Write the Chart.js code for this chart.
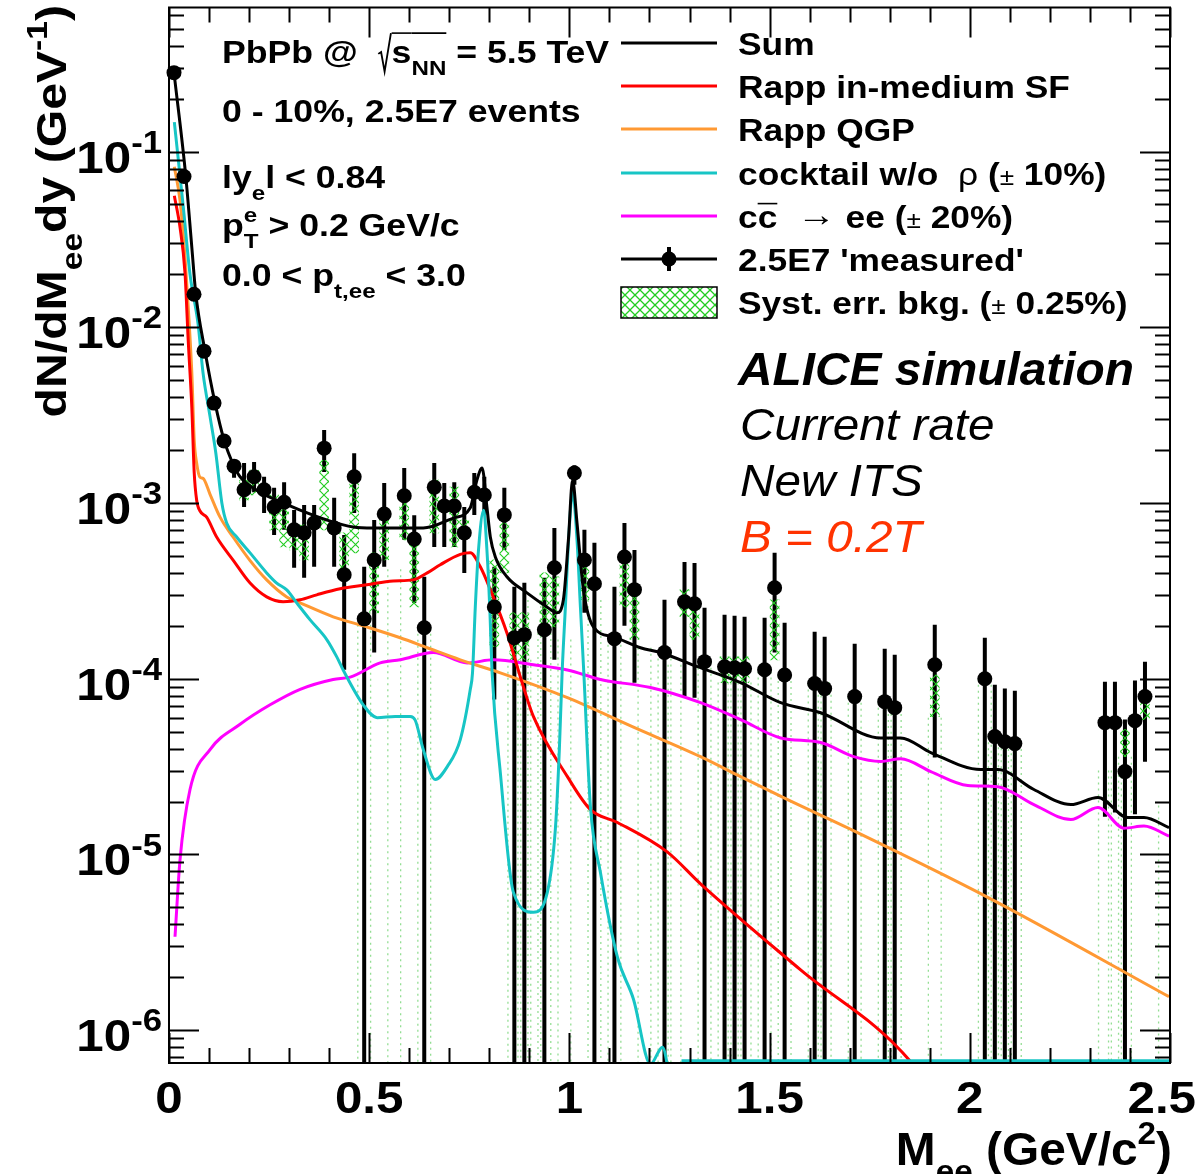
<!DOCTYPE html>
<html>
<head>
<meta charset="utf-8">
<script src="https://cdn.jsdelivr.net/npm/chart.js@4.4.1/dist/chart.umd.min.js"></script>
<style>
  html, body { margin: 0; padding: 0; background: #fff; }
  #wrap { width: 1198px; height: 1174px; }
</style>
</head>
<body>
<div id="wrap"><canvas id="c" width="1198" height="1174"></canvas></div>
<script>
// ---- axis ranges / ticks ----
const yMin = 6.5e-7, yMax = 0.66;
const xMajor = [0, 0.5, 1, 1.5, 2, 2.5];
const xMajorLabels = ['0', '0.5', '1', '1.5', '2', '2.5'];
const yDecades = [-1, -2, -3, -4, -5, -6];

// ---- model curves (M in GeV/c^2, dN/dMdy) ----
const sumM = [0.0125, 0.042, 0.057, 0.067, 0.09, 0.115, 0.1375, 0.1625, 0.1775, 0.2275, 0.285, 0.3275, 0.394, 0.46, 0.51, 0.635, 0.71, 0.7525, 0.769, 0.782, 0.794, 0.8025, 0.815, 0.844, 0.894, 0.944, 0.969, 0.985, 0.9975, 1.008, 1.019, 1.035, 1.06, 1.11, 1.1775, 1.2275, 1.32, 1.4275, 1.5275, 1.6275, 1.7775, 1.8275, 1.9025, 2.0275, 2.07, 2.16, 2.2525, 2.32, 2.395, 2.435, 2.4975];
const sumV = [0.281, 0.072, 0.0285, 0.0154, 0.0073, 0.0037, 0.00228, 0.00162, 0.00141, 0.00115, 0.00100, 9.1e-4, 8.0e-4, 7.3e-4, 7.2e-4, 7.2e-4, 8.2e-4, 9.4e-4, 1.35e-3, 1.58e-3, 9.48e-4, 6.41e-4, 4.93e-4, 3.8e-4, 3.08e-4, 2.56e-4, 2.37e-4, 2.81e-4, 6.17e-4, 1.35e-3, 7.69e-4, 3.21e-4, 1.97e-4, 1.73e-4, 1.5e-4, 1.41e-4, 1.17e-4, 9.5e-5, 7.3e-5, 6.4e-5, 4.6e-5, 4.6e-5, 3.8e-5, 3.04e-5, 3.04e-5, 2.34e-5, 1.92e-5, 2.11e-5, 1.62e-5, 1.62e-5, 1.42e-5];

const sfM = [0.0133, 0.0275, 0.04, 0.048, 0.057, 0.063, 0.069, 0.0775, 0.094, 0.119, 0.161, 0.2025, 0.244, 0.285, 0.3275, 0.369, 0.4275, 0.494, 0.56, 0.61, 0.645, 0.6775, 0.7275, 0.7525, 0.7775, 0.8025, 0.844, 0.885, 0.91, 0.995, 1.0525, 1.12, 1.245, 1.3275, 1.5775, 1.8525, 1.95];
const sfV = [0.056, 0.037, 0.0203, 0.0084, 0.0035, 0.00148, 0.00104, 9.0e-4, 8.3e-4, 6.4e-4, 4.7e-4, 3.5e-4, 2.92e-4, 2.74e-4, 2.81e-4, 3.0e-4, 3.25e-4, 3.42e-4, 3.6e-4, 3.65e-4, 4.0e-4, 4.45e-4, 5.1e-4, 5.2e-4, 4.33e-4, 3.21e-4, 1.82e-4, 9.0e-5, 6.1e-5, 2.77e-5, 1.8e-5, 1.52e-5, 1.03e-5, 6.8e-6, 2.2e-6, 6.6e-7, 3.0e-7];

const qgpM = [0.0133, 0.0275, 0.04, 0.048, 0.057, 0.063, 0.069, 0.0775, 0.085, 0.1025, 0.1275, 0.16, 0.2025, 0.244, 0.294, 0.3275, 0.41, 0.494, 0.5775, 0.645, 0.7275, 0.8275, 0.995, 1.16, 1.3275, 1.4275, 1.545, 1.7025, 2.045, 2.4975];
const qgpV = [0.082, 0.0527, 0.025, 0.013, 0.0055, 0.00228, 0.00169, 0.0014, 0.00138, 1.12e-3, 8.3e-4, 6.4e-4, 4.7e-4, 3.65e-4, 2.92e-4, 2.7e-4, 2.25e-4, 1.97e-4, 1.71e-4, 1.5e-4, 1.28e-4, 1.08e-4, 7.8e-5, 5.3e-5, 3.6e-5, 2.77e-5, 2.05e-5, 1.39e-5, 5.7e-6, 1.55e-6];

const cockM = [0.0133, 0.0358, 0.0525, 0.0725, 0.085, 0.1025, 0.117, 0.132, 0.144, 0.169, 0.2025, 0.244, 0.269, 0.294, 0.319, 0.3525, 0.394, 0.419, 0.435, 0.485, 0.52, 0.565, 0.6025, 0.615, 0.635, 0.665, 0.695, 0.7275, 0.7525, 0.758, 0.765, 0.773, 0.786, 0.794, 0.801, 0.807, 0.8275, 0.86, 0.91, 0.945, 0.965, 0.975, 0.9818, 0.99, 0.998, 1.008, 1.019, 1.0275, 1.036, 1.0525, 1.0775, 1.12, 1.16, 1.2025, 1.2325, 1.2525, 1.265, 1.28, 1.5, 2.0, 2.5];
const cockV = [0.147, 0.048, 0.020, 0.0105, 5.5e-3, 3.1e-3, 1.92e-3, 1.0e-3, 7.7e-4, 6.4e-4, 5.2e-4, 4.0e-4, 3.5e-4, 3.2e-4, 2.7e-4, 2.16e-4, 1.67e-4, 1.33e-4, 1.12e-4, 7.1e-5, 6.0e-5, 6.1e-5, 6.1e-5, 5.8e-5, 3.95e-5, 2.67e-5, 3.16e-5, 4.5e-5, 8.7e-5, 1.08e-4, 2.56e-4, 5.4e-4, 9.1e-4, 5.4e-4, 2.56e-4, 1.08e-4, 2.92e-5, 6.1e-6, 4.68e-6, 6.1e-6, 1.4e-5, 4.0e-5, 1.08e-4, 2.56e-4, 6.17e-4, 1.15e-3, 6.17e-4, 2.56e-4, 1.08e-4, 1.87e-5, 7.9e-6, 2.6e-6, 1.5e-6, 6.4e-7, 8.0e-7, 5.0e-7, null, 6.7e-7, 6.7e-7, 6.7e-7, 6.7e-7];

const ccM = [0.015, 0.0275, 0.0525, 0.1025, 0.1775, 0.2525, 0.3275, 0.41, 0.4525, 0.5275, 0.5775, 0.66, 0.745, 0.81, 0.91, 0.995, 1.0775, 1.2025, 1.3275, 1.4275, 1.5275, 1.6275, 1.71, 1.7775, 1.8275, 1.9025, 1.995, 2.07, 2.16, 2.2525, 2.32, 2.385, 2.435, 2.4975];
const ccV = [3.4e-6, 9.3e-6, 2.34e-5, 3.95e-5, 5.5e-5, 7.1e-5, 8.7e-5, 9.9e-5, 1.02e-4, 1.23e-4, 1.28e-4, 1.41e-4, 1.23e-4, 1.28e-4, 1.2e-4, 1.12e-4, 9.9e-5, 8.9e-5, 7.3e-5, 5.85e-5, 4.6e-5, 4.33e-5, 3.6e-5, 3.38e-5, 3.5e-5, 2.96e-5, 2.47e-5, 2.43e-5, 1.92e-5, 1.58e-5, 1.85e-5, 1.41e-5, 1.45e-5, 1.27e-5];

// ---- 'measured' spectrum (bin centres, value, error-bar ends; 0 = down to axis) ----
const measM = [0.0125, 0.0375, 0.0625, 0.0875, 0.1125, 0.1375, 0.1625, 0.1875, 0.2125, 0.2375, 0.2625, 0.2875, 0.3125, 0.3375, 0.3625, 0.3875, 0.4125, 0.4375, 0.4625, 0.4875, 0.5125, 0.5375, 0.5875, 0.6125, 0.6375, 0.6625, 0.6875, 0.7125, 0.7375, 0.7625, 0.7875, 0.8125, 0.8375, 0.8625, 0.8875, 0.9375, 0.9625, 1.0125, 1.0375, 1.0625, 1.1125, 1.1375, 1.1625, 1.2375, 1.2875, 1.3125, 1.3375, 1.3875, 1.4125, 1.4375, 1.4875, 1.5125, 1.5375, 1.6125, 1.6375, 1.7125, 1.7875, 1.8125, 1.9125, 2.0375, 2.0625, 2.0875, 2.1125, 2.3375, 2.3625, 2.3875, 2.4125, 2.4375];
const measV = [0.281, 0.0721, 0.0154, 0.00731, 0.0037, 0.00225, 0.00162, 1.19e-3, 1.41e-3, 1.19e-3, 9.48e-4, 1.01e-3, 7.03e-4, 6.76e-4, 7.69e-4, 2.05e-3, 7.21e-4, 3.9e-4, 1.41e-3, 2.19e-4, 4.74e-4, 8.66e-4, 1.10e-3, 6.24e-4, 1.95e-4, 1.23e-3, 9.61e-4, 9.61e-4, 6.76e-4, 1.15e-3, 1.11e-3, 2.56e-4, 8.55e-4, 1.71e-4, 1.78e-4, 1.90e-4, 4.28e-4, 1.48e-3, 4.74e-4, 3.47e-4, 1.69e-4, 4.93e-4, 3.21e-4, 1.41e-4, 2.74e-4, 2.67e-4, 1.25e-4, 1.17e-4, 1.155e-4, 1.14e-4, 1.125e-4, 3.29e-4, 1.05e-4, 9.38e-5, 8.78e-5, 7.91e-5, 7.40e-5, 6.84e-5, 1.20e-4, 1.0e-4, 4.68e-5, 4.38e-5, 4.27e-5, 5.62e-5, 5.62e-5, 2.96e-5, 5.77e-5, 7.91e-5];
const measLo = [0.27, 0.069, 0.0148, 0.0070, 0.00355, 0.00214, 1.39e-3, 9.48e-4, 1.15e-3, 8.77e-4, 6.58e-4, 7.03e-4, 4.28e-4, 3.75e-4, 4.33e-4, 1.50e-3, 4.33e-4, 1.125e-4, 8.77e-4, 0, 1.41e-4, 4.33e-4, 6.17e-4, 2.70e-4, 0, 5.62e-4, 5.62e-4, 5.62e-4, 4.0e-4, 8.55e-4, 8.55e-4, 7.61e-5, 5.40e-4, 0, 0, 0, 1.28e-4, 1.27e-3, 2.37e-4, 0, 0, 2.0e-4, 9.49e-5, 0, 7.91e-5, 7.80e-5, 0, 0, 0, 0, 0, 1.41e-4, 0, 0, 0, 0, 0, 0, 3.56e-5, 0, 0, 0, 0, 1.64e-5, 1.73e-5, 0, 1.69e-5, 3.37e-5];
const measHi = [0.292, 0.075, 0.016, 0.0076, 0.00386, 0.00236, 1.75e-3, 1.69e-3, 1.71e-3, 1.41e-3, 1.22e-3, 1.31e-3, 9.12e-4, 9.75e-4, 9.75e-4, 2.60e-3, 1.07e-3, 6.58e-4, 1.92e-3, 4.33e-4, 8.0e-4, 1.30e-3, 1.58e-3, 8.5e-4, 3.80e-4, 1.69e-3, 1.30e-3, 1.31e-3, 9.48e-4, 1.48e-3, 1.41e-3, 4.33e-4, 1.22e-3, 3.33e-4, 3.51e-4, 3.75e-4, 7.21e-4, 1.64e-3, 7.03e-4, 5.93e-4, 3.33e-4, 7.69e-4, 5.40e-4, 2.81e-4, 4.62e-4, 4.56e-4, 2.53e-4, 2.31e-4, 2.28e-4, 2.25e-4, 2.22e-4, 5.20e-4, 2.08e-4, 1.85e-4, 1.73e-4, 1.58e-4, 1.48e-4, 1.37e-4, 2.03e-4, 1.71e-4, 9.25e-5, 8.78e-5, 8.55e-5, 9.62e-5, 9.62e-5, 5.85e-5, 9.75e-5, 1.25e-4];

// ---- systematic boxes (hatched) and boxes reaching zero (dotted edges) ----
const sysM = [0.1875, 0.2125, 0.2625, 0.2875, 0.3125, 0.3375, 0.3875, 0.4375, 0.4625, 0.5125, 0.5375, 0.5875, 0.6125, 0.6625, 0.7125, 0.7375, 0.8125, 0.8375, 0.8625, 0.8875, 0.9375, 0.9625, 1.0375, 1.1375, 1.1625, 1.2875, 1.3125, 1.3875, 1.4125, 1.4375, 1.5125, 1.6375, 1.9125, 2.3875, 2.4375];
const sysLo = [1.04e-3, 1.11e-3, 7.03e-4, 5.62e-4, 5.40e-4, 4.74e-4, 7.03e-4, 3.80e-4, 5.20e-4, 2.37e-4, 4.74e-4, 6.17e-4, 2.56e-4, 6.76e-4, 5.62e-4, 6.41e-4, 1.52e-4, 4.0e-4, 1.28e-4, 1.28e-4, 1.82e-4, 1.97e-4, 2.81e-4, 2.56e-4, 1.67e-4, 2.25e-4, 1.67e-4, 9.49e-5, 9.49e-5, 9.49e-5, 1.28e-4, 8.12e-5, 6.08e-5, 3.6e-5, 5.85e-5];
const sysHi = [1.35e-3, 1.54e-3, 1.11e-3, 9.48e-4, 7.03e-4, 7.5e-4, 1.75e-3, 6.76e-4, 1.35e-3, 5.20e-4, 8.0e-4, 1.0e-3, 6.17e-4, 1.35e-3, 1.23e-3, 8.0e-4, 4.74e-4, 7.69e-4, 2.37e-4, 2.37e-4, 4.0e-4, 3.80e-4, 4.33e-4, 4.56e-4, 3.21e-4, 3.21e-4, 2.81e-4, 1.33e-4, 1.33e-4, 1.33e-4, 2.81e-4, 9.49e-5, 1.05e-4, 5.13e-5, 7.61e-5];
const sysLineM = [0.4875, 0.5625, 0.6375, 0.8625, 0.8875, 0.9125, 0.9375, 0.9875, 1.0625, 1.1125, 1.1875, 1.2375, 1.2625, 1.3375, 1.3875, 1.4125, 1.4375, 1.4875, 1.5375, 1.6125, 1.6375, 1.7125, 1.7875, 1.8125, 1.9125, 2.0375, 2.0625, 2.0875, 2.1125, 2.3375, 2.3625, 2.3875, 2.4875];
const sysLineTop = [2.19e-4, 4.2e-4, 1.95e-4, 1.28e-4, 1.28e-4, 2.8e-4, 1.82e-4, 1.67e-4, 2.8e-4, 1.69e-4, 1.5e-4, 1.41e-4, 1.2e-4, 1.25e-4, 9.5e-5, 9.5e-5, 9.5e-5, 1.1e-4, 1.05e-4, 9.4e-5, 8.1e-5, 7.9e-5, 7.4e-5, 6.8e-5, 6.0e-5, 1.0e-4, 4.7e-5, 4.4e-5, 4.3e-5, 3.0e-5, 3.0e-5, 3.6e-5, 1.9e-5];

// ---- colours ----
const cBlack = '#000000', cRed = '#ff0000', cOrange = '#ff9933', cCyan = '#17c5c5', cMagenta = '#ff00ff', cGreen = '#22cc22';
const FONT = '"Liberation Sans", Arial, sans-serif';

const pts = (xs, ys) => xs.map((x, i) => ({ x: x, y: ys[i] }));

function makeHatch(size, color, lw) {
  const p = document.createElement('canvas');
  p.width = size; p.height = size;
  const g = p.getContext('2d');
  g.strokeStyle = color; g.lineWidth = lw;
  g.beginPath();
  g.moveTo(0, 0); g.lineTo(size, size);
  g.moveTo(size, 0); g.lineTo(0, size);
  g.stroke();
  return g.createPattern(p, 'repeat');
}

const ctx = document.getElementById('c').getContext('2d');
const hatch = makeHatch(9, cGreen, 1.1);
const hatchBig = makeHatch(10, cGreen, 1.3);

// dotted box edges reaching down to the axis
const sysLinePts = [];
sysLineM.forEach((m, i) => {
  [-0.016, 0.016].forEach(d => {
    sysLinePts.push({ x: m + d, y: sysLineTop[i] }, { x: m + d, y: 1e-9 }, { x: m + d, y: null });
  });
});

// rich text: parts = [{t, sub, sup, w, s, over, adv, radical}]
function rich(g, parts, x, y, o) {
  const size = o.size;
  g.save();
  g.translate(x, y);
  if (o.rot) g.rotate(o.rot);
  g.scale(o.hs || 1, 1);
  const fontOf = p => {
    const s = (p.sub || p.sup) ? 0.7 : (p.s || 1);
    return (o.italic ? 'italic ' : '') + (p.w || o.weight || 'bold') + ' ' + Math.round(size * s) + 'px ' + FONT;
  };
  let total = 0;
  parts.forEach(p => {
    g.font = fontOf(p);
    p._w = p.radical ? 0.4 * size : g.measureText(p.t).width;
    if (p.adv !== false) total += p._w;
  });
  let cx = o.align === 'right' ? -total : (o.align === 'center' ? -total / 2 : 0);
  g.fillStyle = o.color || '#000';
  g.strokeStyle = o.color || '#000';
  g.textBaseline = 'alphabetic';
  g.textAlign = 'left';
  parts.forEach(p => {
    g.font = fontOf(p);
    if (p.radical) {
      g.lineWidth = 1.6;
      g.beginPath();
      g.moveTo(cx + 0.02 * size, -0.3 * size);
      g.lineTo(cx + 0.1 * size, -0.36 * size);
      g.lineTo(cx + 0.2 * size, 0.28 * size);
      g.lineTo(cx + 0.38 * size, -0.98 * size);
      g.stroke();
    } else {
      const dy = p.sub ? 0.38 * size : (p.sup ? -0.45 * size : (p.dy || 0) * size);
      g.fillText(p.t, cx, dy);
    }
    if (p.over) {
      g.lineWidth = 1.6;
      g.beginPath();
      const oy = (p.overY !== undefined ? p.overY : -0.8) * size;
      g.moveTo(cx, oy); g.lineTo(cx + p._w, oy);
      g.stroke();
    }
    if (p.adv !== false) cx += p._w;
  });
  g.restore();
}

const rootPlugin = {
  id: 'rootStyle',
  beforeDatasetsDraw(chart) {
    const g = chart.ctx, a = chart.chartArea, xs = chart.scales.x, ys = chart.scales.y;
    g.save();
    g.beginPath(); g.rect(a.left, a.top, a.right - a.left, a.bottom - a.top); g.clip();
    g.strokeStyle = cBlack; g.lineWidth = 4;
    measM.forEach((m, i) => {
      const px = xs.getPixelForValue(m);
      const top = ys.getPixelForValue(measHi[i]);
      const bot = measLo[i] > 0 ? ys.getPixelForValue(measLo[i]) : a.bottom;
      g.beginPath(); g.moveTo(px, top); g.lineTo(px, bot); g.stroke();
    });
    g.restore();
  },
  afterDraw(chart) {
    const g = chart.ctx, a = chart.chartArea, xs = chart.scales.x, ys = chart.scales.y;
    g.save();
    // frame
    g.strokeStyle = cBlack; g.lineWidth = 2;
    g.strokeRect(a.left, a.top, a.right - a.left, a.bottom - a.top);
    // x ticks (inside, bottom and top)
    for (let i = 0; i <= 25; i++) {
      const v = i / 10;
      const px = Math.round(xs.getPixelForValue(v)) + 0.5;
      const len = (i % 5 === 0) ? 30 : 15;
      g.beginPath();
      g.moveTo(px, a.bottom); g.lineTo(px, a.bottom - len);
      g.moveTo(px, a.top); g.lineTo(px, a.top + len);
      g.stroke();
    }
    // y ticks (log, inside, left and right)
    for (let e = -7; e <= 0; e++) {
      for (let m = 1; m <= 9; m++) {
        const v = m * Math.pow(10, e);
        if (v < yMin || v > yMax) continue;
        const py = Math.round(ys.getPixelForValue(v)) + 0.5;
        const len = m === 1 ? 30 : 15;
        g.beginPath();
        g.moveTo(a.left, py); g.lineTo(a.left + len, py);
        g.moveTo(a.right, py); g.lineTo(a.right - len, py);
        g.stroke();
      }
    }
    g.restore();

    // tick labels
    yDecades.forEach(e => {
      const py = ys.getPixelForValue(Math.pow(10, e));
      rich(g, [{ t: '10' }, { t: String(e), sup: true }], 162, py + 21, { size: 44, hs: 1.12, align: 'right' });
    });
    xMajor.forEach((v, i) => {
      const last = i === xMajor.length - 1;
      rich(g, [{ t: xMajorLabels[i] }], last ? 1196 : xs.getPixelForValue(v), 1113,
        { size: 44, hs: 1.12, align: last ? 'right' : 'center' });
    });

    // axis titles
    rich(g, [{ t: 'M' }, { t: 'ee', sub: true }, { t: ' (GeV/c' }, { t: '2', sup: true }, { t: ')' }], 1172, 1165, { size: 46, hs: 1.04, align: 'right' });
    rich(g, [{ t: 'dN/dM' }, { t: 'ee', sub: true }, { t: 'dy (GeV' }, { t: '-1', sup: true }, { t: ')' }], 66, 5, { size: 43, hs: 1.12, align: 'right', rot: -Math.PI / 2 });

    // run conditions
    const L = { size: 30.5, hs: 1.15 };
    rich(g, [{ t: 'PbPb @  ' }, { radical: true, t: '' }, { t: 's', over: true, overY: -0.98 }, { t: 'NN', sub: true, over: true, overY: -0.98 }, { t: ' = 5.5 TeV' }], 222, 63, L);
    rich(g, [{ t: '0 - 10%, 2.5E7 events' }], 222, 122, L);
    rich(g, [{ t: 'ly' }, { t: 'e', sub: true }, { t: 'l < 0.84' }], 222, 188, L);
    rich(g, [{ t: 'p' }, { t: 'e', sup: true, adv: false }, { t: 'T', sub: true }, { t: ' > 0.2 GeV/c' }], 222, 236, L);
    rich(g, [{ t: '0.0 < p' }, { t: 't,ee', sub: true }, { t: ' < 3.0' }], 222, 286, L);

    // legend
    const lx0 = 621, lx1 = 717, tx = 738;
    const LL = { size: 30.5, hs: 1.14 };
    const legend = [
      { y: 43, color: cBlack, parts: [{ t: 'Sum' }] },
      { y: 86, color: cRed, parts: [{ t: 'Rapp in-medium SF' }] },
      { y: 129, color: cOrange, parts: [{ t: 'Rapp QGP' }] },
      { y: 173, color: cCyan, parts: [{ t: 'cocktail w/o  ' }, { t: '\u03C1', w: 'normal' }, { t: ' (' }, { t: '\u00B1', w: 'normal', s: 0.75 }, { t: ' 10%)' }] },
      { y: 216, color: cMagenta, parts: [{ t: 'c' }, { t: 'c', over: true, overY: -0.8 }, { t: '  ' }, { t: '\u2192', w: 'normal', s: 1.1, dy: -0.05 }, { t: ' ee (' }, { t: '\u00B1', w: 'normal', s: 0.75 }, { t: ' 20%)' }] },
      { y: 259, color: cBlack, marker: true, parts: [{ t: "2.5E7 'measured'" }] },
      { y: 302, box: true, parts: [{ t: 'Syst. err. bkg. (' }, { t: '\u00B1', w: 'normal', s: 0.75 }, { t: ' 0.25%)' }] }
    ];
    g.save();
    legend.forEach(en => {
      if (en.box) {
        g.fillStyle = hatchBig;
        g.fillRect(lx0, en.y - 15, lx1 - lx0, 31);
        g.strokeStyle = cBlack; g.lineWidth = 1.5;
        g.strokeRect(lx0, en.y - 15, lx1 - lx0, 31);
      } else {
        g.strokeStyle = en.color; g.lineWidth = 3;
        g.beginPath(); g.moveTo(lx0, en.y); g.lineTo(lx1, en.y); g.stroke();
        if (en.marker) {
          g.lineWidth = 4;
          g.beginPath(); g.moveTo(669, en.y - 12); g.lineTo(669, en.y + 12); g.stroke();
          g.fillStyle = cBlack;
          g.beginPath(); g.arc(669, en.y, 7.5, 0, Math.PI * 2); g.fill();
        }
      }
      rich(g, en.parts, tx, en.y + 12, LL);
    });
    g.restore();

    // simulation tags
    rich(g, [{ t: 'ALICE simulation' }], 738, 385, { size: 46, hs: 1.04, italic: true });
    rich(g, [{ t: 'Current rate' }], 740, 440, { size: 45, hs: 1.06, italic: true, weight: 'normal' });
    rich(g, [{ t: 'New ITS' }], 740, 496, { size: 45, hs: 1.06, italic: true, weight: 'normal' });
    rich(g, [{ t: 'B = 0.2T' }], 740, 552, { size: 45, hs: 1.06, italic: true, weight: 'normal', color: '#ff3300' });
  }
};

const lineDs = (label, xs, ys, color, order) => ({
  type: 'line', label: label, data: pts(xs, ys), borderColor: color, backgroundColor: color,
  borderWidth: 3, pointRadius: 0, fill: false, cubicInterpolationMode: 'monotone',
  spanGaps: false, clip: 0, order: order
});

new Chart(ctx, {
  type: 'line',
  data: {
    datasets: [
      {
        type: 'line', label: 'syst. to zero', data: sysLinePts, borderColor: 'rgba(40,190,40,0.5)',
        borderWidth: 1.3, borderDash: [2, 4], pointRadius: 0, tension: 0, spanGaps: false, clip: 0, order: 10
      },
      {
        type: 'bar', label: 'Syst. err. bkg.', data: sysM.map((m, i) => ({ x: m, y: [sysLo[i], sysHi[i]] })),
        backgroundColor: hatch, borderWidth: 0, barThickness: 9, grouped: false, order: 9
      },
      lineDs('cc -> ee', ccM, ccV, cMagenta, 8),
      lineDs('Rapp QGP', qgpM, qgpV, cOrange, 7),
      lineDs('Rapp in-medium SF', sfM, sfV, cRed, 6),
      lineDs('cocktail w/o rho', cockM, cockV, cCyan, 5),
      lineDs('Sum', sumM, sumV, cBlack, 4),
      {
        type: 'line', label: "2.5E7 'measured'", data: pts(measM, measV), showLine: false,
        pointRadius: 7.5, pointBackgroundColor: cBlack, pointBorderColor: cBlack, pointBorderWidth: 0,
        clip: false, order: 1
      }
    ]
  },
  options: {
    responsive: false,
    animation: false,
    devicePixelRatio: 1,
    layout: { padding: { left: 0, right: 28, top: 7, bottom: 0 } },
    plugins: { legend: { display: false }, tooltip: { enabled: false }, title: { display: false } },
    scales: {
      x: {
        type: 'linear', min: 0, max: 2.5, offset: false,
        grid: { display: false }, border: { display: false }, ticks: { display: false },
        afterFit: s => { s.height = 111; }
      },
      y: {
        type: 'logarithmic', min: yMin, max: yMax,
        grid: { display: false }, border: { display: false }, ticks: { display: false },
        afterFit: s => { s.width = 169; }
      }
    }
  },
  plugins: [rootPlugin]
});
</script>
</body>
</html>
